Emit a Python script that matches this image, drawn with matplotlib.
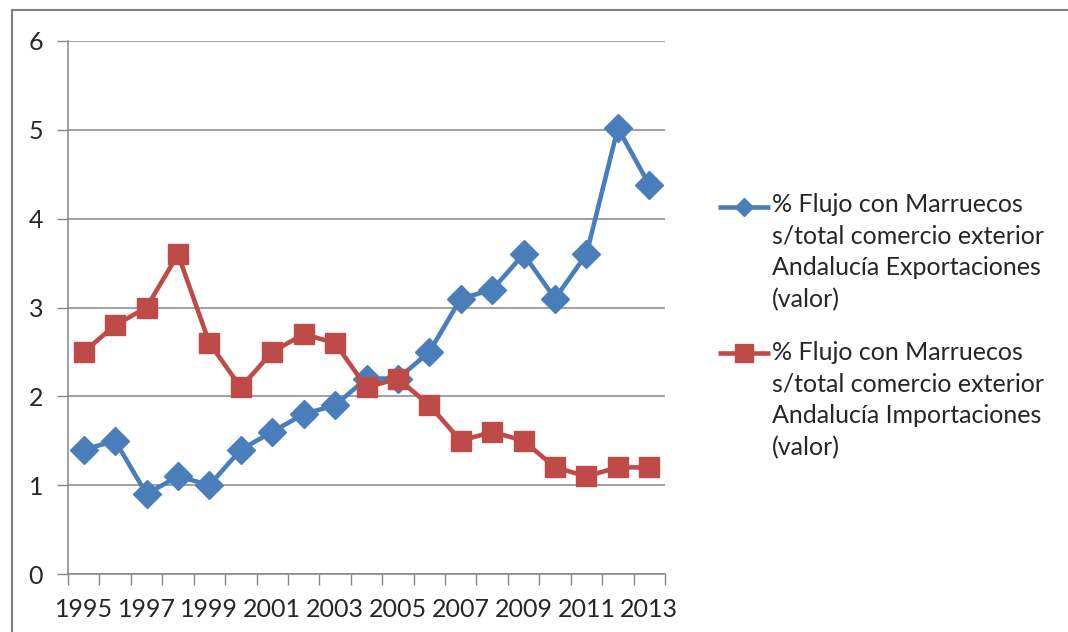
import numpy as np
import matplotlib.pyplot as plt
from matplotlib.lines import Line2D

# --- data
years = list(range(1995, 2014))
exports_pct = [1.4, 1.5, 0.9, 1.1, 1.0, 1.4, 1.6, 1.8, 1.9, 2.2,
               2.2, 2.5, 3.1, 3.2, 3.6, 3.1, 3.6, 5.02, 4.38]
imports_pct = [2.5, 2.8, 3.0, 3.6, 2.6, 2.1, 2.5, 2.7, 2.6, 2.1,
               2.2, 1.9, 1.5, 1.6, 1.5, 1.2, 1.1, 1.2, 1.2]
label_exp = "% Flujo con Marruecos\ns/total comercio exterior\nAndalucía Exportaciones\n(valor)"
label_imp = "% Flujo con Marruecos\ns/total comercio exterior\nAndalucía Importaciones\n(valor)"
y_ticks = [0, 1, 2, 3, 4, 5, 6]

plt.rcParams['font.family'] = ['Lato', 'DejaVu Sans']

blue = "#4A7EBB"
red = "#BE4B48"
grid_col = "#868686"
text_col = "#262626"
W, H = 1068, 632

fig = plt.figure(figsize=(W / 100, H / 100), dpi=100)
ax = fig.add_axes([68 / W, 1 - 574 / H, (665 - 68) / W, (574 - 41) / H])

x = np.arange(len(years))
ax.plot(x, exports_pct, color=blue, linewidth=3.3, marker="D", markersize=14,
        zorder=3)
ax.plot(x, imports_pct, color=red, linewidth=3.3, marker="s", markersize=14.5,
        zorder=3)

# --- X axis (category style, ticks between categories)
ax.set_xlim(-0.5, len(years) - 0.5)
ax.set_xticks(np.arange(-0.5, len(years), 1.0))
ax.set_xticklabels([])
ax.set_xticks(x[::2], minor=True)
ax.set_xticklabels([str(y) for y in years[::2]], minor=True)
ax.tick_params(axis='x', which='major', length=8, width=1, color=grid_col, direction='out')
ax.tick_params(axis='x', which='minor', length=0, labelsize=18, pad=17, labelcolor=text_col)

# --- Y axis
ax.set_ylim(0, 6)
ax.set_yticks(y_ticks)
ax.tick_params(axis='y', length=8, width=1, color=grid_col, labelsize=18, pad=10,
               labelcolor=text_col)
ax.yaxis.grid(True, color=grid_col, linewidth=1.1)
ax.set_axisbelow(True)

for side in ("top", "right"):
    ax.spines[side].set_visible(False)
for side in ("left", "bottom"):
    ax.spines[side].set_color(grid_col)
    ax.spines[side].set_linewidth(1.1)

# --- Legend, drawn by hand so the key sits on the first text line
entries = [(label_exp, blue, "D", 9), (label_imp, red, "s", 13)]
for i, (lab, col, mk, ms) in enumerate(entries):
    y_line = 1 - (207 + i * 146) / H
    fig.add_artist(Line2D([718 / W, 770 / W], [y_line, y_line], color=col,
                          linewidth=3.3, solid_capstyle="butt"))
    fig.add_artist(Line2D([744 / W], [y_line], color=col, marker=mk,
                          markersize=ms, linestyle="none"))
    fig.text(772 / W, 1 - (193 + i * 148) / H, lab, fontsize=18, color=text_col,
             va="top", ha="left", linespacing=1.45)

# --- outer chart border (top and left visible in the reference)
fig.add_artist(Line2D([12 / W, 12 / W], [0, 1 - 10 / H], color="#7F7F7F", linewidth=1.5))
fig.add_artist(Line2D([12 / W, 1], [1 - 10 / H, 1 - 10 / H], color="#7F7F7F", linewidth=1.5))

fig.savefig("out.png", dpi=100)
